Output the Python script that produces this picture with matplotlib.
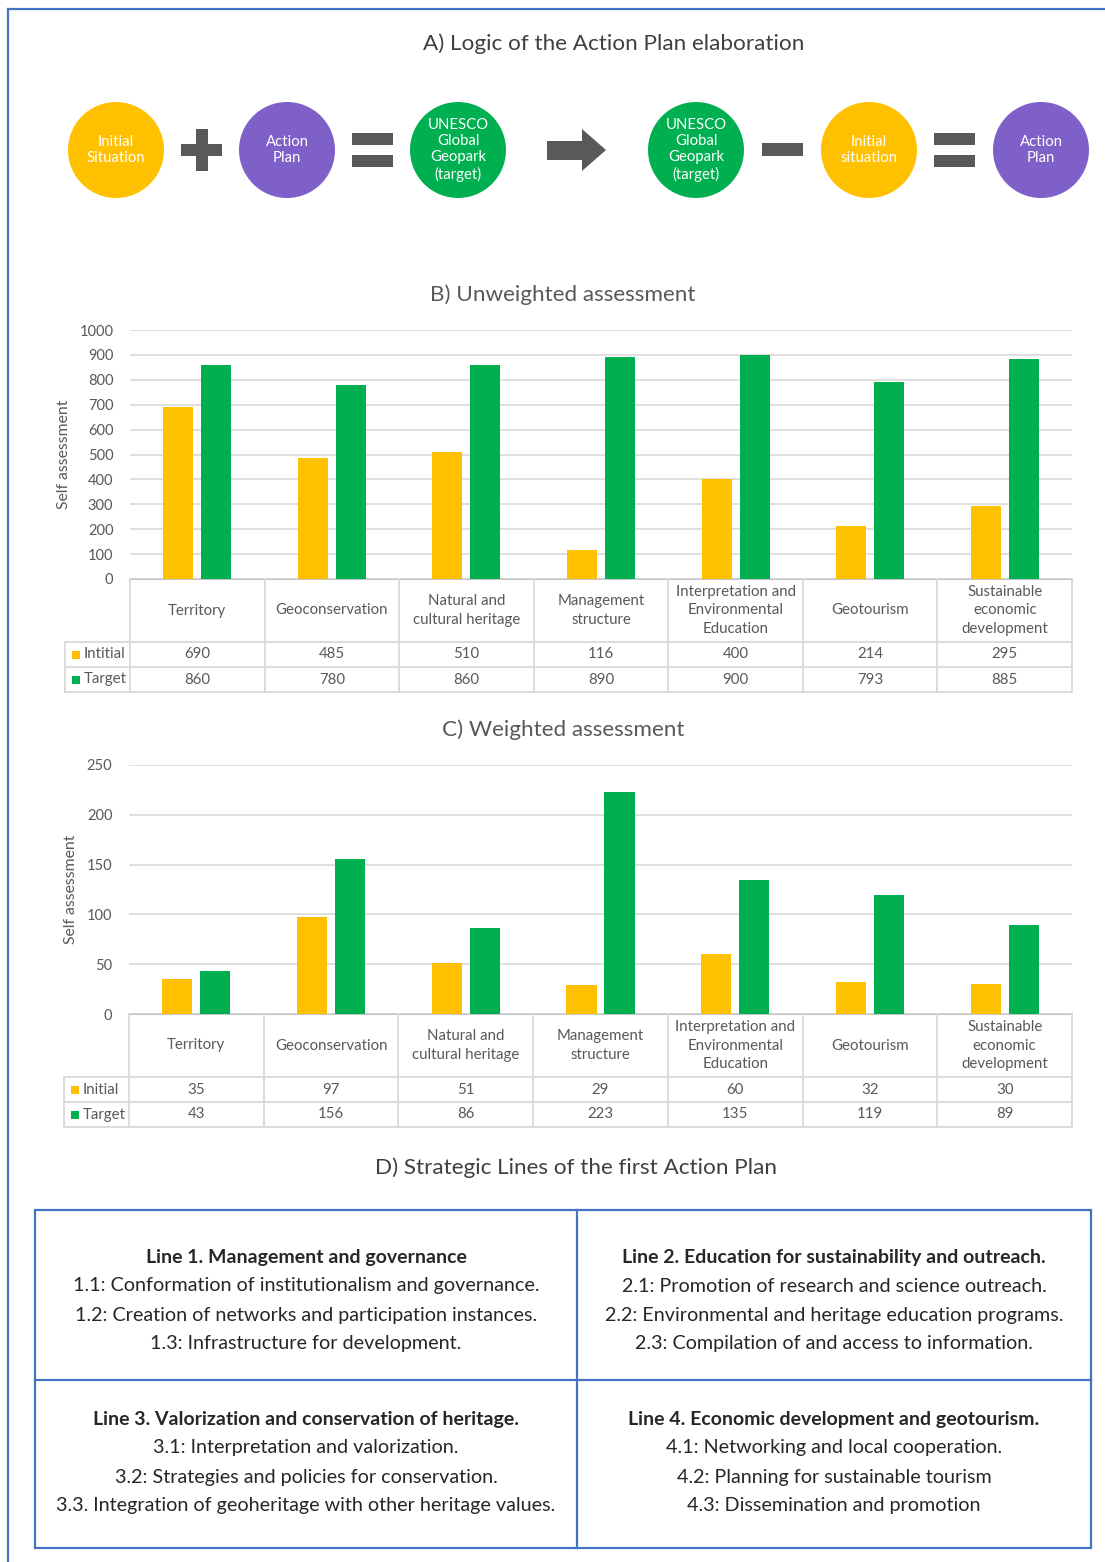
import matplotlib
matplotlib.use("Agg")
import matplotlib.pyplot as plt
from matplotlib.patches import Circle, Rectangle, Polygon
from matplotlib.lines import Line2D
from matplotlib.transforms import blended_transform_factory

plt.rcParams['font.family'] = ['Lato', 'DejaVu Sans']

W, H = 1105, 1562

categories = ["Territory", "Geoconservation", "Natural and\ncultural heritage",
              "Management\nstructure", "Interpretation and\nEnvironmental\nEducation",
              "Geotourism", "Sustainable\neconomic\ndevelopment"]

unweighted_initial = [690, 485, 510, 116, 400, 214, 295]
unweighted_target = [860, 780, 860, 890, 900, 793, 885]

weighted_initial = [35, 97, 51, 29, 60, 32, 30]
weighted_target = [43, 156, 86, 223, 135, 119, 89]

lines_d = [
    ("Line 1. Management and governance",
     ["1.1: Conformation of institutionalism and governance.",
      "1.2: Creation of networks and participation instances.",
      "1.3: Infrastructure for development."]),
    ("Line 2. Education for sustainability and outreach.",
     ["2.1: Promotion of research and science outreach.",
      "2.2: Environmental and heritage education programs.",
      "2.3: Compilation of and access to information."]),
    ("Line 3. Valorization and conservation of heritage.",
     ["3.1: Interpretation and valorization.",
      "3.2: Strategies and policies for conservation.",
      "3.3. Integration of geoheritage with other heritage values."]),
    ("Line 4. Economic development and geotourism.",
     ["4.1: Networking and local cooperation.",
      "4.2: Planning for sustainable tourism",
      "4.3: Dissemination and promotion"]),
]

YELLOW = "#FFC000"
GREEN = "#00B050"
PURPLE = "#7F5FC8"
GREY = "#595959"
DARK = "#404040"
BLUE = "#4472C4"
LGRID = "#D9D9D9"

fig = plt.figure(figsize=(W / 100, H / 100), dpi=100)
fig.patch.set_facecolor("white")

ov = fig.add_axes([0, 0, 1, 1], zorder=0)
ov.set_xlim(0, W)
ov.set_ylim(H, 0)
ov.axis("off")

# outer frame
ov.plot([8, W], [9, 9], color=BLUE, lw=1.6)
ov.plot([8, 8], [9, H], color=BLUE, lw=1.6)

# ---- A) logic
ov.text(614, 44, "A) Logic of the Action Plan elaboration", ha="center", va="center",
        fontsize=16.2, color=DARK)

circles = [(116, YELLOW, "Initial\nSituation"), (287, PURPLE, "Action\nPlan"),
           (458, GREEN, "UNESCO\nGlobal\nGeopark\n(target)"),
           (696, GREEN, "UNESCO\nGlobal\nGeopark\n(target)"),
           (869, YELLOW, "Initial\nsituation"), (1041, PURPLE, "Action\nPlan")]
for cx, col, txt in circles:
    ov.add_patch(Circle((cx, 150), 48, color=col, lw=0))
    ov.text(cx, 150, txt, ha="center", va="center", color="white", fontsize=10.7,
            linespacing=1.2)

# plus
ov.add_patch(Rectangle((181, 144), 41, 12, color=GREY, lw=0))
ov.add_patch(Rectangle((195.5, 129), 12, 42, color=GREY, lw=0))
# equals
for x0 in (352, 934):
    ov.add_patch(Rectangle((x0, 133), 41, 12, color=GREY, lw=0))
    ov.add_patch(Rectangle((x0, 155), 41, 12, color=GREY, lw=0))
# arrow
ov.add_patch(Polygon([(547, 141), (582, 141), (582, 129), (606, 150), (582, 171),
                      (582, 160), (547, 160)], closed=True, color=GREY, lw=0))
# minus
ov.add_patch(Rectangle((762, 143), 41, 13, color=GREY, lw=0))


def px_axes(x0, y0, x1, y1):
    return fig.add_axes([x0 / W, 1 - y1 / H, (x1 - x0) / W, (y1 - y0) / H], zorder=1)


def bar_chart(box, title, title_y, ymax, ystep, init, targ, init_label, table_left):
    x0, y0, x1, y1 = box
    ax = px_axes(x0, y0, x1, y1)
    ax.set_facecolor("none")
    idx = list(range(len(categories)))
    ax.bar([i - 0.141 for i in idx], init, width=0.223, color=YELLOW, zorder=3)
    ax.bar([i + 0.141 for i in idx], targ, width=0.223, color=GREEN, zorder=3)
    ax.set_xlim(-0.5, len(categories) - 0.5)
    ax.set_ylim(0, ymax)
    ax.set_yticks(range(0, ymax + 1, ystep))
    ax.yaxis.grid(True, color=LGRID, lw=1.2, zorder=0)
    ax.set_xticks([])
    for s in ax.spines.values():
        s.set_visible(False)
    ax.tick_params(axis="y", length=0, pad=12, labelsize=10.5, labelcolor=GREY)
    ax.set_ylabel("Self assessment", fontsize=11.3, color=GREY, labelpad=6)

    ov.text(563, title_y, title, ha="center", va="center", fontsize=16.2, color=GREY)

    # data table under the axis
    tr = blended_transform_factory(ax.transData, ov.transData)
    r0, r1, r2, r3 = y1, y1 + 63, y1 + 88, y1 + 113
    n = len(categories)
    lk = dict(color=LGRID, lw=1.3)
    ov.add_line(Line2D([-0.5, n - 0.5], [r0, r0], transform=tr, color="#BFBFBF", lw=1.3))
    for yy in (r1, r2, r3):
        ov.plot([table_left, x0], [yy, yy], **lk)
        ov.add_line(Line2D([-0.5, n - 0.5], [yy, yy], transform=tr, **lk))
    ov.plot([table_left, table_left], [r1, r3], **lk)
    for k in range(n + 1):
        ov.add_line(Line2D([k - 0.5, k - 0.5], [r0, r3], transform=tr, **lk))
    for i, c in enumerate(categories):
        ov.text(i, (r0 + r1) / 2, c, transform=tr, ha="center", va="center",
                fontsize=10.8, color=GREY, linespacing=1.45)
        ov.text(i, (r1 + r2) / 2, str(init[i]), transform=tr, ha="center", va="center",
                fontsize=10.8, color=GREY)
        ov.text(i, (r2 + r3) / 2, str(targ[i]), transform=tr, ha="center", va="center",
                fontsize=10.8, color=GREY)
    for (ra, rb), col, lab in (((r1, r2), YELLOW, init_label), ((r2, r3), GREEN, "Target")):
        ym = (ra + rb) / 2
        ov.add_patch(Rectangle((table_left + 7, ym - 4), 8, 8, color=col, lw=0))
        ov.text(table_left + 19, ym, lab, ha="left", va="center", fontsize=10.8, color=GREY)
    return ax


bar_chart((130, 330, 1072, 579), "B) Unweighted assessment", 295, 1000, 100,
          unweighted_initial, unweighted_target, "Intitial", 65)
bar_chart((129, 765, 1072, 1014), "C) Weighted assessment", 730, 250, 50,
          weighted_initial, weighted_target, "Initial", 64)

# ---- D) strategic lines
ov.text(576, 1168, "D) Strategic Lines of the first Action Plan", ha="center", va="center",
        fontsize=16.2, color=DARK)
ov.add_patch(Rectangle((35, 1210), 1056, 338, fill=False, edgecolor=BLUE, lw=1.6))
ov.plot([577, 577], [1210, 1548], color=BLUE, lw=1.6)
ov.plot([35, 1091], [1380, 1380], color=BLUE, lw=1.6)

cells = [(306, 1257), (834, 1257), (306, 1419), (834, 1419)]
for (cx, ty), (head, items) in zip(cells, lines_d):
    ov.text(cx, ty, head, ha="center", va="center", fontsize=14, fontweight="bold",
            color="#262626")
    for j, it in enumerate(items):
        ov.text(cx, ty + 29 * (j + 1), it, ha="center", va="center", fontsize=14.2,
                color="#262626")

fig.savefig("out.png", dpi=100)
